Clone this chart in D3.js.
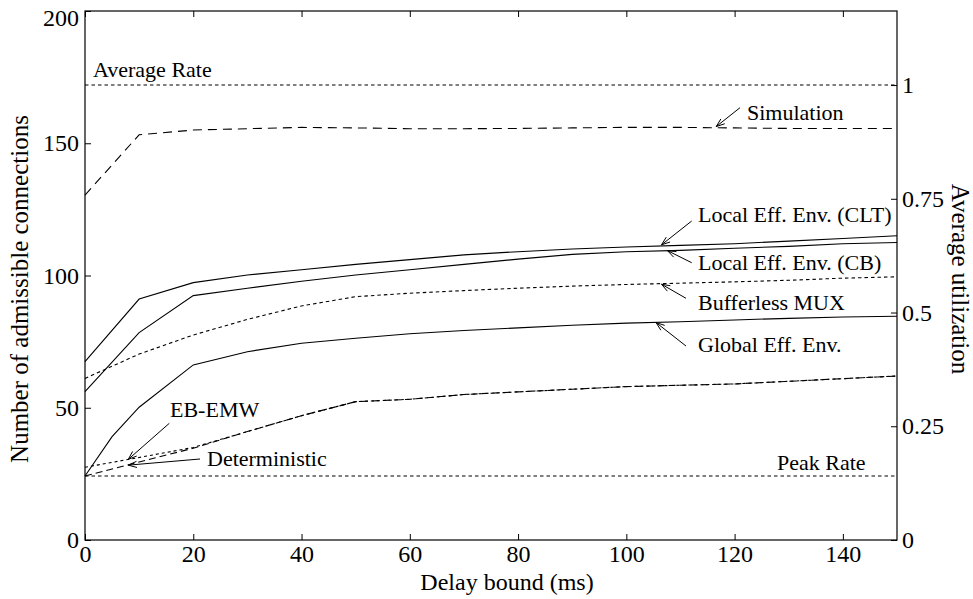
<!DOCTYPE html>
<html>
<head>
<meta charset="utf-8">
<script src="https://cdn.jsdelivr.net/npm/d3@7"></script>
<style>
  html, body { margin: 0; padding: 0; background: #fff; }
  svg { display: block; }
  text { font-family: "Liberation Serif", "Times New Roman", serif; fill: #000; }
</style>
</head>
<body>
<svg id="chart" width="973" height="599"></svg>
<script>
// ---- data ----
const delays = [0, 10, 20, 30, 40, 50, 60, 70, 80, 90, 100, 110, 120, 130, 140, 150];
const simulation    = [130.4, 153.2, 155, 155.5, 156, 155.8, 155.5, 155.5, 155.6, 155.8, 156, 156, 155.8, 155.6, 155.6, 155.6];
const localCLT      = [67.4, 91.1, 97.3, 100.2, 102.2, 104.2, 106, 107.8, 109, 110, 110.8, 111.4, 112, 113, 114, 115];
const localCB       = [56.1, 78.4, 92.4, 95.2, 97.8, 100.2, 102.2, 104.2, 106.2, 108, 109, 109.5, 110.3, 111, 112, 112.5];
const bufferlessMUX = [61.1, 70.3, 77.5, 83.4, 88.5, 92, 93.3, 94.3, 95.2, 96, 96.6, 97.1, 97.6, 98.2, 99, 99.5];
const ebEMW         = [27.5, 31.2, 35, 41, 47, 52.3, 53.2, 55, 56, 57, 58, 58.5, 59, 60, 61, 62];
const deterministic = [24.2, 29.5, 34.7, 41, 47, 52.3, 53.2, 55, 56, 57, 58, 58.5, 59, 60, 61, 62];
const globalDelays  = [0, 5, 10, 20, 30, 40, 50, 60, 70, 80, 90, 100, 110, 120, 130, 140, 150];
const globalEnv     = [24.2, 39.1, 50.2, 66.2, 71.2, 74.4, 76.3, 78, 79.2, 80.2, 81.2, 82, 82.5, 83.2, 83.8, 84.3, 84.6];
const averageRate = 172;
const peakRate = 24.2;

const xTicks = [0, 20, 40, 60, 80, 100, 120, 140];
const yTicks = [0, 50, 100, 150, 200];
const utilTicks = [0, 0.25, 0.5, 0.75, 1];
const utilLabels = ["0", "0.25", "0.5", "0.75", "1"];

// annotation texts and the point (delay, connections) each arrow points to
const annotations = [
  { text: "Simulation",             tip: [116.6, 156.3] },
  { text: "Local Eff. Env. (CLT)",  tip: [106.5, 111.6] },
  { text: "Local Eff. Env. (CB)",   tip: [107.6, 109.4] },
  { text: "Bufferless MUX",         tip: [106.5, 96.7] },
  { text: "Global Eff. Env.",       tip: [105.5, 82.2] },
  { text: "EB-EMW",                 tip: [8.0, 30.5] },
  { text: "Deterministic",          tip: [8.0, 28.3] }
];

// ---- layout ----
const L = 85, R = 897, T = 11, B = 540;
const svg = d3.select("#chart");
const x = d3.scaleLinear().domain([0, 150]).range([L, R]);
const y = d3.scaleLinear().domain([0, 200]).range([B, T]);
const yU = d3.scaleLinear().domain([0, 200 / averageRate]).range([B, T]);

const tickFont = "24px";
const annFont = "22px";

// axes
const gx = svg.append("g").attr("transform", `translate(0,${B})`)
  .call(d3.axisBottom(x).tickValues(xTicks).tickSize(-6).tickSizeOuter(0).tickPadding(5));
const gxt = svg.append("g").attr("transform", `translate(0,${T})`)
  .call(d3.axisTop(x).tickValues(xTicks).tickSize(-6).tickSizeOuter(0).tickFormat(""));
const gy = svg.append("g").attr("transform", `translate(${L},0)`)
  .call(d3.axisLeft(y).tickValues(yTicks).tickSize(-6).tickSizeOuter(0).tickPadding(6));
const gyr = svg.append("g").attr("transform", `translate(${R},0)`)
  .call(d3.axisRight(yU).tickValues(utilTicks).tickSize(-6).tickSizeOuter(0).tickPadding(5)
    .tickFormat((d, i) => utilLabels[i]));

[gx, gxt, gy, gyr].forEach(g => {
  g.select(".domain").remove();
  g.selectAll("line").attr("stroke", "#000").attr("stroke-width", 1);
  g.selectAll("text").style("font-size", tickFont).style("font-family", "Liberation Serif").attr("fill", "#000");
});
// the top label sits against the image edge; keep it fully inside
gy.selectAll(".tick text").filter(d => d === 200).attr("dy", "0.6em");

// frame
svg.append("rect").attr("x", L).attr("y", T).attr("width", R - L).attr("height", B - T)
  .attr("fill", "none").attr("stroke", "#000").attr("stroke-width", 1.2);

// lines
const line = d3.line().x(d => x(d[0])).y(d => y(d[1]));
function drawSeries(xs, ys, dash) {
  svg.append("path")
    .datum(xs.map((v, i) => [v, ys[i]]))
    .attr("d", line)
    .attr("fill", "none")
    .attr("stroke", "#000")
    .attr("stroke-width", 1.1)
    .attr("stroke-dasharray", dash);
}
drawSeries([0, 150], [averageRate, averageRate], "3.5,3");
drawSeries([0, 150], [peakRate, peakRate], "3.5,3");
drawSeries(delays, simulation, "9,6");
drawSeries(delays, localCLT, null);
drawSeries(delays, localCB, null);
drawSeries(delays, bufferlessMUX, "3.5,3");
drawSeries(globalDelays, globalEnv, null);
drawSeries(delays, ebEMW, "3,3");
drawSeries(delays, deterministic, "7,4");

// plain labels
svg.append("text").attr("x", 93).attr("y", 77).style("font-size", annFont).text("Average Rate");
svg.append("text").attr("x", 777).attr("y", 470).style("font-size", annFont).text("Peak Rate");

// annotation labels with arrows (text position and arrow tail in pixels)
const annLayout = [
  { tx: 747, ty: 120, tail: [740, 107.7] },
  { tx: 698, ty: 222, tail: [691.7, 221] },
  { tx: 698, ty: 270, tail: [691.7, 262.7] },
  { tx: 698, ty: 310, tail: [686, 298.3] },
  { tx: 698, ty: 352, tail: [686, 346] },
  { tx: 170, ty: 417, tail: [169.3, 423.3] },
  { tx: 207, ty: 466, tail: [200, 459] }
];
annotations.forEach((a, i) => {
  const lay = annLayout[i];
  svg.append("text").attr("x", lay.tx).attr("y", lay.ty).style("font-size", annFont).text(a.text);
  const tx = x(a.tip[0]), ty = y(a.tip[1]);
  const [sx, sy] = lay.tail;
  svg.append("line").attr("x1", sx).attr("y1", sy).attr("x2", tx).attr("y2", ty)
    .attr("stroke", "#000").attr("stroke-width", 1);
  const ang = Math.atan2(ty - sy, tx - sx);
  const hl = 9, ha = 0.35;
  const p1 = [tx - hl * Math.cos(ang - ha), ty - hl * Math.sin(ang - ha)];
  const p2 = [tx - hl * Math.cos(ang + ha), ty - hl * Math.sin(ang + ha)];
  svg.append("path").attr("d", `M${p1[0]},${p1[1]}L${tx},${ty}L${p2[0]},${p2[1]}`)
    .attr("fill", "none").attr("stroke", "#000").attr("stroke-width", 1);
});

// axis titles
svg.append("text").attr("x", 507).attr("y", 590).attr("text-anchor", "middle")
  .style("font-size", "24px").text("Delay bound (ms)");
svg.append("text").attr("transform", `translate(28,289) rotate(-90)`)
  .attr("text-anchor", "middle").style("font-size", "25px").text("Number of admissible connections");
svg.append("text").attr("transform", `translate(952,279) rotate(90)`)
  .attr("text-anchor", "middle").style("font-size", "25px").text("Average utilization");
</script>
</body>
</html>
